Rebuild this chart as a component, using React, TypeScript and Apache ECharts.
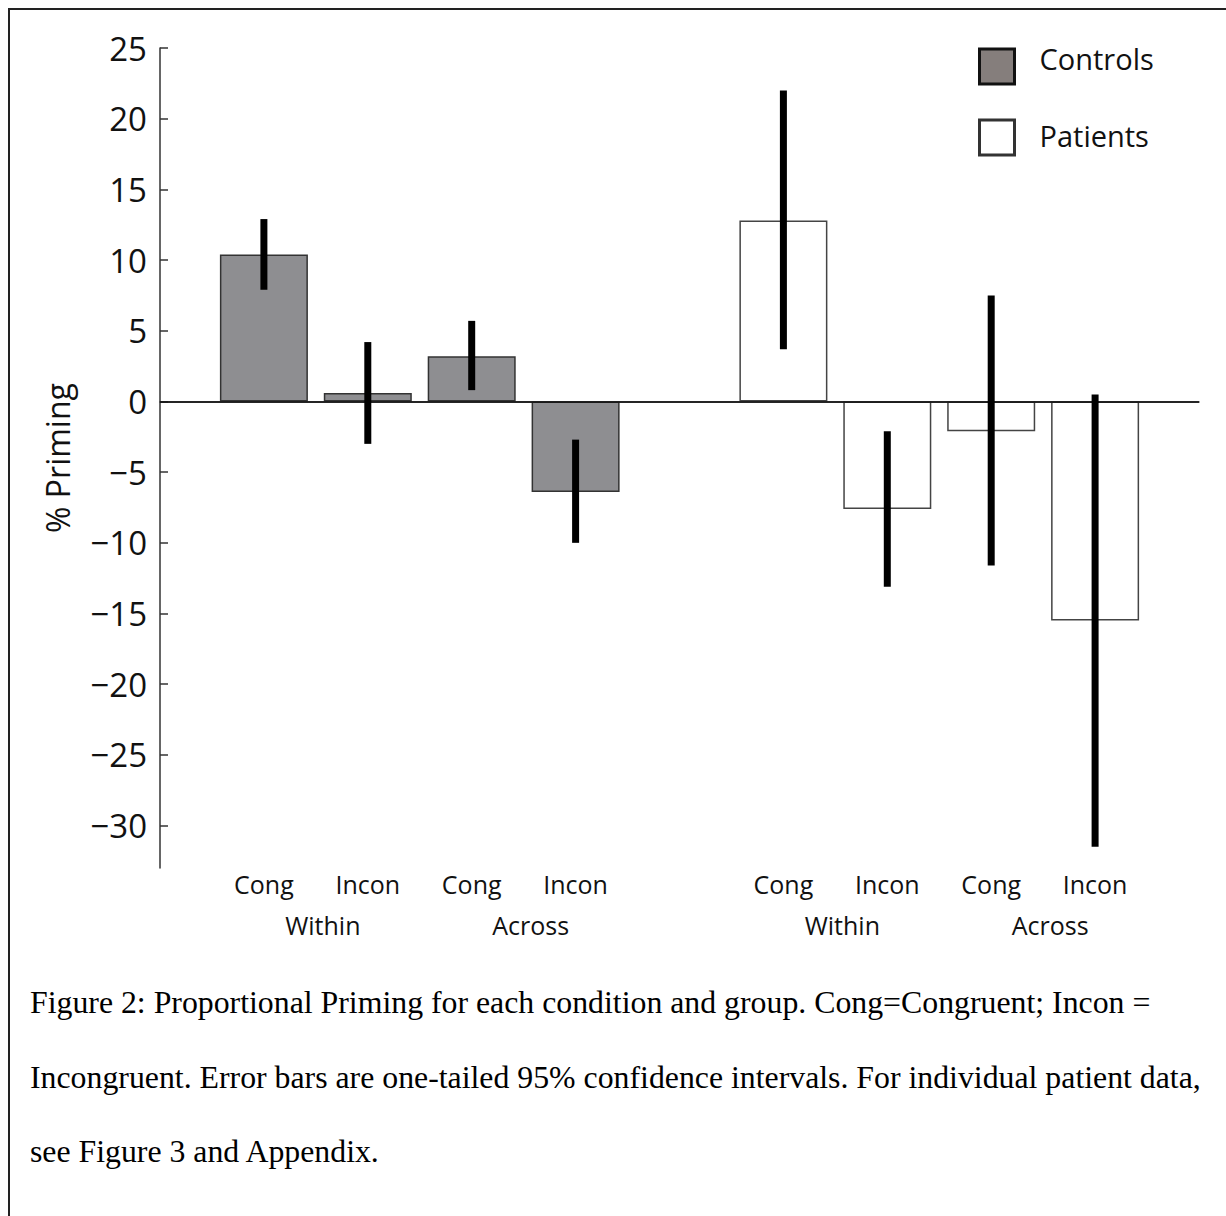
import React, { useEffect, useRef } from "react";
import * as echarts from "echarts";

// ---- data ----
const categories = ["", "Cong", "Incon", "Cong", "Incon", "", "Cong", "Incon", "Cong", "Incon", ""];
const groupLabels = [
  "", "", "", "Within", "", "", "", "Across", "", "", "",
  "", "", "Within", "", "", "", "Across", "", "", "",
];
const controlsValues = [null, 10.4, 0.6, 3.2, -6.4, null, null, null, null, null, null];
const patientsValues = [null, null, null, null, null, null, 12.8, -7.6, -2.1, -15.5, null];
const errLow = [null, 7.9, -3.0, 0.8, -10.0, null, 3.7, -13.1, -11.6, -31.5, null];
const errHigh = [null, 12.9, 4.2, 5.7, -2.7, null, 22.0, -2.1, 7.5, 0.5, null];
const yTickValues = [-30, -25, -20, -15, -10, -5, 0, 5, 10, 15, 20, 25];
const yMin = -33;
const yMax = 25;
const seriesNames = ["Controls", "Patients"];
const yAxisName = "% Priming";
const captionLines = [
  "Figure 2: Proportional Priming for each condition and group. Cong=Congruent; Incon =",
  "Incongruent. Error bars are one-tailed 95% confidence intervals. For individual patient data,",
  "see Figure 3 and Appendix.",
];

const SANS = "'Open Sans', 'Noto Sans', sans-serif";
const SERIF = "'Liberation Serif', 'DejaVu Serif', serif";

export default function App() {
  const ref = useRef<HTMLDivElement>(null);

  useEffect(() => {
    if (!ref.current) return;
    const chart = echarts.init(ref.current, undefined, { renderer: "svg" });

    const errData = categories
      .map((_, i) => (errLow[i] == null ? null : [i, errLow[i], errHigh[i]]))
      .filter((d) => d != null);

    const option: any = {
      animation: false,
      backgroundColor: "#fff",
      grid: { left: 160, right: 27, top: 48, bottom: 348, containLabel: false },
      legend: {
        orient: "vertical",
        left: 978,
        top: 44,
        padding: 0,
        itemWidth: 35,
        itemHeight: 35,
        itemGap: 33,
        icon: "rect",
        selectedMode: false,
        formatter: (name: string) =>
          name === seriesNames[0] ? `{t|${name}}\n{s|\u00a0}` : `{t|${name}}\n{u|\u00a0}`,
        textStyle: {
          fontFamily: SANS,
          fontSize: 29,
          color: "#111",
          padding: [0, 0, 0, 20],
          rich: {
            t: { fontFamily: SANS, fontSize: 29, color: "#111", lineHeight: 34 },
            s: { fontSize: 2, lineHeight: 16 },
            u: { fontSize: 2, lineHeight: 4 },
          },
        },
        data: [
          {
            name: seriesNames[0],
            itemStyle: { color: "#857e7c", borderColor: "#111", borderWidth: 3 },
          },
          {
            name: seriesNames[1],
            itemStyle: { color: "#fff", borderColor: "#333", borderWidth: 3 },
          },
        ],
      },
      xAxis: [
        {
          type: "category",
          data: categories,
          boundaryGap: false,
          position: "bottom",
          axisLine: { show: true, lineStyle: { color: "#333", width: 1.5 } },
          axisTick: { show: false },
          splitLine: { show: false },
          axisLabel: {
            interval: 0,
            margin: 3,
            fontFamily: SANS,
            fontSize: 25,
            color: "#111",
          },
        },
        {
          type: "category",
          data: groupLabels,
          boundaryGap: false,
          position: "bottom",
          offset: 0,
          axisLine: { show: false },
          axisTick: { show: false },
          splitLine: { show: false },
          axisLabel: {
            interval: 0,
            margin: 44,
            padding: [0, 0, 0, 14],
            fontFamily: SANS,
            fontSize: 25,
            color: "#111",
          },
        },
      ],
      yAxis: {
        type: "value",
        min: yMin,
        max: yMax,
        splitNumber: 12,
        name: yAxisName,
        nameLocation: "middle",
        nameGap: 87,
        nameTextStyle: { fontFamily: SANS, fontSize: 32, color: "#111" },
        axisLine: { show: true, lineStyle: { color: "#333", width: 1.5 } },
        axisTick: {
          show: true,
          inside: true,
          length: 8,
          lineStyle: { color: "#333", width: 1.5 },
          customValues: yTickValues,
        },
        splitLine: { show: false },
        axisLabel: {
          margin: 13,
          fontFamily: SANS,
          fontSize: 33,
          color: "#111",
          customValues: yTickValues,
          formatter: (v: number) =>
            v % 5 !== 0 ? "" : v < 0 ? "\u2212" + Math.abs(v) : String(v),
        },
      },
      series: [
        {
          name: seriesNames[0],
          type: "bar",
          data: controlsValues,
          barWidth: 88,
          barGap: "-100%",
          itemStyle: { color: "#8e8e91", borderColor: "#333", borderWidth: 1.5 },
          markLine: {
            silent: true,
            symbol: "none",
            label: { show: false },
            lineStyle: { color: "#111", width: 1.5, type: "solid" },
            data: [{ yAxis: 0 }],
          },
          z: 2,
        },
        {
          name: seriesNames[1],
          type: "bar",
          data: patientsValues,
          barWidth: 88,
          barGap: "-100%",
          itemStyle: { color: "#fff", borderColor: "#444", borderWidth: 1.5 },
          z: 2,
        },
        {
          name: "CI",
          type: "custom",
          data: errData,
          encode: { x: 0, y: [1, 2] },
          z: 5,
          renderItem: (_params: any, api: any) => {
            const i = api.value(0);
            const top = api.coord([i, api.value(2)]);
            const bot = api.coord([i, api.value(1)]);
            return {
              type: "rect",
              shape: { x: top[0] - 3.5, y: top[1], width: 7, height: bot[1] - top[1] },
              style: { fill: "#000" },
            };
          },
        },
      ],
      graphic: [
        {
          type: "line",
          shape: { x1: 8, y1: 9, x2: 1226, y2: 9 },
          style: { stroke: "#222", lineWidth: 2 },
        },
        {
          type: "line",
          shape: { x1: 9, y1: 8, x2: 9, y2: 1216 },
          style: { stroke: "#222", lineWidth: 2 },
        },
        ...captionLines.map((t, k) => ({
          type: "text",
          x: 30,
          y: [1002.5, 1077.5, 1151.5][k],
          style: {
            text: t,
            fontFamily: SERIF,
            fontSize: 31.8,
            fill: "#000",
            verticalAlign: "middle",
            align: "left",
          },
        })),
      ],
    };

    chart.setOption(option);
    return () => chart.dispose();
  }, []);

  return (
    <div
      ref={ref}
      style={{ position: "absolute", left: 0, top: 0, width: 1226, height: 1216 }}
    />
  );
}
